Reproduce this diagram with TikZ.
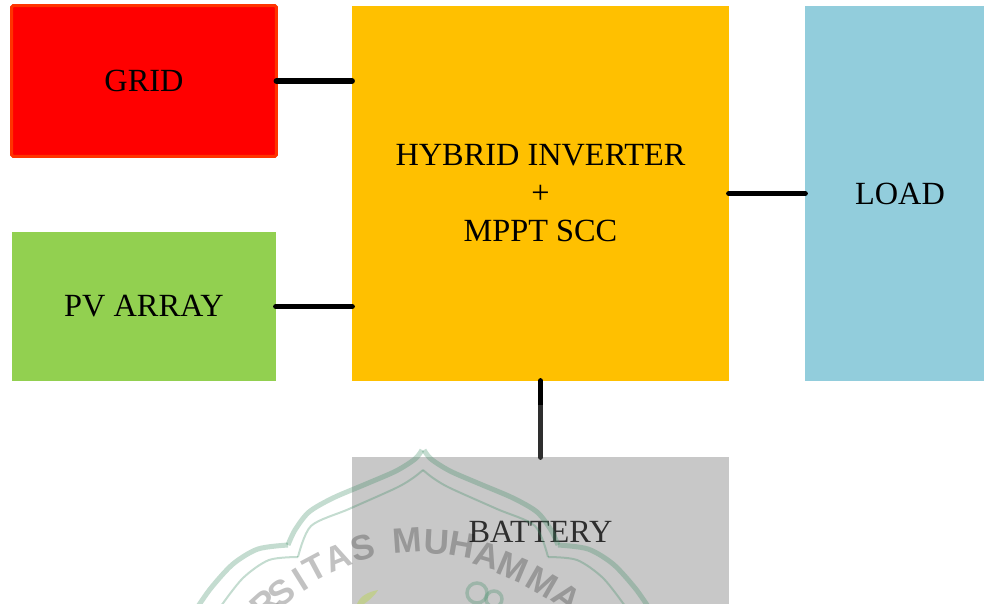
\documentclass[tikz,border=0pt]{standalone}
\usepackage{fontspec}
\setmainfont{Liberation Serif}
\setsansfont{Liberation Sans}
\definecolor{gridred}{RGB}{255,0,0}
\definecolor{gridedge}{RGB}{255,51,0}
\definecolor{pvgreen}{RGB}{146,208,80}
\definecolor{invorange}{RGB}{255,192,0}
\definecolor{loadblue}{RGB}{146,205,220}
\definecolor{batgray}{RGB}{189,189,189}
\definecolor{markgreen}{RGB}{60,140,100}
\begin{document}
\begin{tikzpicture}[x=.02cm,y=-.02cm]
\tikzset{
  unit/.style={inner sep=0pt, outer sep=0pt, align=center, font=\fontsize{18.4}{21.6}\selectfont},
  link/.style={draw=black, line width=.115cm, line cap=round},
  markline/.style={draw=markgreen, opacity=.3},
  markletter/.style={font=\fontsize{20}{20}\sffamily\bfseries\selectfont, text=black, opacity=.24, inner sep=0pt}
}
\clip (0,0) rectangle (984,604);

\node[unit,fill=gridred,draw=gridedge,line width=.06cm,rounded corners=1pt,minimum width=5.3cm,minimum height=3.02cm] (grid) at (144,81) {GRID};
\node[unit,fill=pvgreen,minimum width=5.28cm,minimum height=2.98cm] (pv) at (144,306.5) {PV ARRAY};
\node[unit,fill=invorange,minimum width=7.54cm,minimum height=7.5cm] (inverter) at (540.5,193.5) {HYBRID INVERTER\\+\\MPPT SCC};
\node[unit,fill=loadblue,minimum width=3.8cm,minimum height=7.5cm] (load) at (900,193.5) {LOAD};
\node[unit,fill=batgray,minimum width=7.54cm,minimum height=3cm] (battery) at (540.5,532) {BATTERY};

\draw[link] (grid.east) -- (inverter.west |- grid.east);
\draw[link] (pv.east) -- (inverter.west |- pv.east);
\draw[link] (inverter.east) -- (load.west);
\draw[link] (inverter.south) -- (battery.north);

% faded stamp over the lower part
\fill[white,opacity=.18] (110,405) rectangle (984,604);
\foreach \s in {1,-1} {
  \begin{scope}[shift={(423,0)},xscale=\s]
    \draw[markline,line width=.1cm] plot[smooth] coordinates {(1,450) (8,459) (27,471) (57,484) (90,498) (114,512) (128,530) (135,545)};
    \draw[markline,line width=.1cm] plot[smooth] coordinates {(135,545) (165,549) (190,564) (212,588) (226,608)};
    \draw[markline,line width=.04cm] plot[smooth] coordinates {(0,470) (10,478) (27,488) (74,509) (112,526) (125,557)};
    \draw[markline,line width=.04cm] plot[smooth] coordinates {(125,557) (154,560) (180,578) (202,606)};
  \end{scope}
}
\fill[yellow!70!green,opacity=.3] (357,604) .. controls (360,596) and (368,592) .. (378,590) .. controls (374,597) and (368,601) .. (364,604) -- cycle;
\foreach \x/\y/\r in {477/593/10,494/599/8}
  \draw[markline,line width=.07cm] (\x,\y) circle (\r);
\foreach \i/\x/\y/\r/\c in {1/265/604/42/R,2/282/593/37/S,3/300/580/32/I,4/315/568/28/T,5/338/558/22/A,6/363/548/15/S,7/407/540/4/M,8/437/542/-3/U,9/462/545/-10/H,10/487/555/-16/A,11/513/567/-23/M,12/542/582/-30/M,13/567/597/-37/A}
  \node[markletter,rotate=\r] (stamp\i) at (\x,\y) {\c};
\end{tikzpicture}
\end{document}
